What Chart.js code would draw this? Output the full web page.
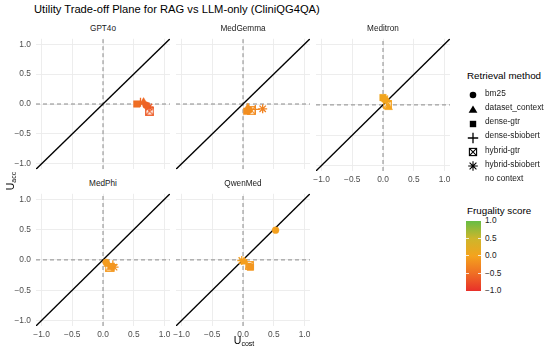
<!DOCTYPE html>
<html><head><meta charset="utf-8">
<script src="https://cdn.jsdelivr.net/npm/chart.js@4/dist/chart.umd.min.js"></script>
<style>
body{margin:0;width:550px;height:356px;background:#fff;position:relative;overflow:hidden;font-family:"Liberation Sans",Arial,sans-serif;}
canvas.panel{position:absolute;}
.t{position:absolute;white-space:nowrap;line-height:1;}
</style></head><body>
<script>
// ---------- DATA ----------
const models = ["GPT4o","MedGemma","Meditron","MedPhi","QwenMed"];
const methods = ["bm25","dataset_context","dense-gtr","dense-sbiobert","hybrid-gtr","hybrid-sbiobert","no context"];
const axisTicks = [-1.0,-0.5,0.0,0.5,1.0];
const colorbarTicks = [1.0,0.5,0.0,-0.5,-1.0];
const chartTitle = "Utility Trade-off Plane for RAG vs LLM-only (CliniQG4QA)";
const legendTitle = "Retrieval method";
const colorbarTitle = "Frugality score";

// values in method order (bm25 .. hybrid-sbiobert); "no context" has no marker
const uCostGPT4o    = [0.70, 0.66, 0.55, 0.61, 0.76, 0.75];
const uAccGPT4o     = [-0.02, 0.03, 0.00, 0.03, -0.12, -0.05];
const frugGPT4o     = [-0.60, -0.55, -0.50, -0.55, -0.65, -0.65];

const uCostMedGemma = [0.10, 0.08, 0.06, 0.20, 0.14, 0.32];
const uAccMedGemma  = [-0.10, -0.06, -0.12, -0.09, -0.11, -0.08];
const frugMedGemma  = [-0.20, -0.18, -0.20, -0.25, -0.22, -0.30];

const uCostMeditron = [0.04, 0.09, 0.00, 0.06, 0.07, 0.03];
const uAccMeditron  = [0.08, -0.04, 0.12, 0.06, 0.01, 0.10];
const frugMeditron  = [0.03, 0.00, 0.05, 0.00, -0.02, 0.02];

const uCostMedPhi   = [0.05, 0.08, 0.13, 0.16, 0.10, 0.18];
const uAccMedPhi    = [-0.04, -0.07, -0.11, -0.08, -0.12, -0.12];
const frugMedPhi    = [-0.08, -0.10, -0.12, -0.12, -0.10, -0.15];

const uCostQwenMed  = [0.53, 0.02, 0.12, 0.06, 0.10, -0.02];
const uAccQwenMed   = [0.49, -0.03, -0.12, -0.06, -0.09, -0.01];
const frugQwenMed   = [-0.03, -0.05, -0.12, -0.08, -0.10, -0.05];

// ---------- STYLE / LAYOUT ----------
const LIM = 1.09, PW = 134, PH = 134, YW = 34, XH = 16, MARG = 12;
const colorStops = [[-1,[232,48,42]],[-0.5,[239,110,36]],[0,[244,163,29]],[0.5,[205,182,43]],[1,[102,189,69]]];
function frugColor(v){
  for(let i=0;i<colorStops.length-1;i++){
    const [a,ca]=colorStops[i],[b,cb]=colorStops[i+1];
    if(v<=b||i===colorStops.length-2){
      const t=Math.max(0,Math.min(1,(v-a)/(b-a)));
      const c=ca.map((x,k)=>Math.round(x+(cb[k]-x)*t));
      return `rgb(${c[0]},${c[1]},${c[2]})`;
    }
  }
}
function squareX(color){
  const c=document.createElement('canvas'); c.width=9; c.height=9;
  const g=c.getContext('2d'); g.strokeStyle=color; g.lineWidth=1.2;
  g.strokeRect(0.7,0.7,7.6,7.6); g.beginPath();
  g.moveTo(0.7,0.7); g.lineTo(8.3,8.3); g.moveTo(8.3,0.7); g.lineTo(0.7,8.3); g.stroke();
  return c;
}
const methodStyle = [
  {style:'circle', r:3.4},
  {style:'triangle', r:4.6},
  {style:'rect', r:4.6},
  {style:'cross', r:4.5},
  {style:'squareX', r:4.5},
  {style:'star', r:4.5},
];
const panels = [
  {name:models[0], left:36,  top:37,  showX:false, showY:true,  cost:uCostGPT4o,    acc:uAccGPT4o,    frug:frugGPT4o},
  {name:models[1], left:176, top:37,  showX:false, showY:false, cost:uCostMedGemma, acc:uAccMedGemma, frug:frugMedGemma},
  {name:models[2], left:316, top:37,  showX:true,  showY:false, cost:uCostMeditron, acc:uAccMeditron, frug:frugMeditron},
  {name:models[3], left:36,  top:192, showX:true,  showY:true,  cost:uCostMedPhi,   acc:uAccMedPhi,   frug:frugMedPhi},
  {name:models[4], left:176, top:192, showX:true,  showY:false, cost:uCostQwenMed,  acc:uAccQwenMed,  frug:frugQwenMed},
];
const fmt = v => (v<0?"\u2212":"") + Math.abs(v).toFixed(1);
const tickFont = {family:"'Liberation Sans', Arial, sans-serif", size:8.4};

function addText(txt, css){
  const d=document.createElement('div'); d.className='t'; d.textContent=txt;
  Object.assign(d.style, css); document.body.appendChild(d); return d;
}

// title
addText(chartTitle,{left:'34px',top:'4px',fontSize:'11.2px',color:'#000'});

panels.forEach(p=>{
  const yw = p.showY?YW:0, xh = p.showX?XH:0;
  const cv=document.createElement('canvas'); cv.className='panel';
  cv.width = PW + yw + 2*MARG; cv.height = PH + xh + 8;
  cv.style.left=(p.left - yw - MARG)+'px'; cv.style.top=(p.top-4)+'px';
  document.body.appendChild(cv);
  // strip label
  addText(p.name,{left:(p.left+PW/2)+'px',top:(p.top-12)+'px',fontSize:'8.2px',color:'#1a1a1a',transform:'translateX(-50%)'});

  const ds=[];
  methodStyle.forEach((m,i)=>{
    const col=frugColor(p.frug[i]);
    ds.push({label:methods[i], data:[{x:p.cost[i],y:p.acc[i]}], order:0,
      pointStyle: m.style==='squareX'?squareX(col):m.style, pointRadius:m.r,
      pointBackgroundColor:col, pointBorderColor:col, pointBorderWidth:(m.style==='cross'||m.style==='star')?1.3:0.5, showLine:false});
  });
  ds.push({label:'diag', data:[{x:-LIM,y:-LIM},{x:LIM,y:LIM}], showLine:true, borderColor:'#000', borderWidth:1.3, pointRadius:0, order:1});
  ds.push({label:'h0', data:[{x:-LIM,y:0},{x:LIM,y:0}], showLine:true, borderColor:'#8a8a8a', borderWidth:1, borderDash:[4,3], pointRadius:0, order:2});
  ds.push({label:'v0', data:[{x:0,y:-LIM},{x:0,y:LIM}], showLine:true, borderColor:'#8a8a8a', borderWidth:1, borderDash:[4,3], pointRadius:0, order:2});

  new Chart(cv,{type:'scatter', data:{datasets:ds},
    options:{responsive:false, animation:false, events:[], devicePixelRatio:1,
      layout:{padding:{left:MARG,right:MARG,top:4,bottom:4}},
      plugins:{legend:{display:false},tooltip:{enabled:false},title:{display:false}},
      scales:{
        x:{type:'linear',min:-LIM,max:LIM,
          afterBuildTicks:s=>{s.ticks=axisTicks.map(v=>({value:v}));},
          afterFit:s=>{s.height=xh; s.paddingLeft=0; s.paddingRight=0;},
          grid:{color:'#ebebeb',lineWidth:0.9,drawTicks:false},border:{display:false},
          ticks:{display:p.showX,padding:3.3,color:'#4d4d4d',font:tickFont,callback:v=>fmt(v),maxRotation:0,autoSkip:false}},
        y:{type:'linear',min:-LIM,max:LIM,
          afterBuildTicks:s=>{s.ticks=axisTicks.map(v=>({value:v}));},
          afterFit:s=>{s.width=yw; s.paddingTop=0; s.paddingBottom=0;},
          grid:{color:'#ebebeb',lineWidth:0.9,drawTicks:false},border:{display:false},
          ticks:{display:p.showY,padding:5,color:'#4d4d4d',font:tickFont,callback:v=>fmt(v),autoSkip:false}}
      }}});
});

// axis titles
const ya=document.createElement('div'); ya.className='t';
ya.innerHTML='U<sub style="font-size:7px;vertical-align:-2px">acc</sub>';
Object.assign(ya.style,{left:'11px',top:'181px',fontSize:'10.5px',color:'#000',transform:'translate(-50%,-50%) rotate(-90deg)'});
document.body.appendChild(ya);
const xa=document.createElement('div'); xa.className='t';
xa.innerHTML='U<sub style="font-size:7px;vertical-align:-2px">cost</sub>';
Object.assign(xa.style,{left:'244px',top:'341px',fontSize:'10.5px',color:'#000',transform:'translate(-50%,-50%)'});
document.body.appendChild(xa);

// legend: retrieval method
addText(legendTitle,{left:'467px',top:'70.5px',fontSize:'9.8px',color:'#000'});
const legendY=[93.3,107.6,121.8,136,150.2,164.4,178.6];
const svgSym = [
  '<circle cx="6" cy="6" r="3.3" fill="#000"/>',
  '<polygon points="6,1.4 10.4,8.8 1.6,8.8" fill="#000"/>',
  '<rect x="2.8" y="2.8" width="6.4" height="6.4" fill="#000"/>',
  '<path d="M0.8,6H11.2M6,0.8V11.2" stroke="#000" stroke-width="1.3"/>',
  '<rect x="2.4" y="2.4" width="7.2" height="7.2" fill="none" stroke="#000" stroke-width="1.1"/><path d="M2.4,2.4L9.6,9.6M9.6,2.4L2.4,9.6" stroke="#000" stroke-width="1.1"/>',
  '<path d="M1.2,6H10.8M6,1.2V10.8M2.6,2.6L9.4,9.4M9.4,2.6L2.6,9.4" stroke="#000" stroke-width="1.1"/>',
  ''
];
methods.forEach((m,i)=>{
  const s=document.createElement('div'); s.style.position='absolute';
  s.style.left=(473-6)+'px'; s.style.top=(legendY[i]-6)+'px';
  s.innerHTML='<svg width="12" height="12" viewBox="0 0 12 12">'+svgSym[i]+'</svg>';
  document.body.appendChild(s);
  addText(m,{left:'485px',top:(legendY[i]-4.6)+'px',fontSize:'8.3px',color:'#1a1a1a'});
});

// colorbar
addText(colorbarTitle,{left:'467px',top:'206px',fontSize:'9.8px',color:'#000'});
const bar=document.createElement('div');
const barTop=220.7, barH=70.3;
Object.assign(bar.style,{position:'absolute',left:'466px',top:barTop+'px',width:'14.5px',height:barH+'px',
  background:'linear-gradient(to bottom,'+colorStops.slice().reverse().map(([v,c])=>`rgb(${c.join(',')}) ${((1-v)/2*100).toFixed(1)}%`).join(',')+')'});
document.body.appendChild(bar);
colorbarTicks.forEach(v=>{
  const y=barTop+(1-v)/2*barH;
  const tk=document.createElement('div');
  Object.assign(tk.style,{position:'absolute',left:'466px',top:(y-0.5)+'px',width:'3px',height:'1px',background:'rgba(255,255,255,0.8)'});
  document.body.appendChild(tk);
  const tk2=tk.cloneNode(); tk2.style.left='477.5px'; document.body.appendChild(tk2);
  addText(fmt(v),{left:'485px',top:(y-4.6)+'px',fontSize:'8.3px',color:'#1a1a1a'});
});
</script>
</body></html>
